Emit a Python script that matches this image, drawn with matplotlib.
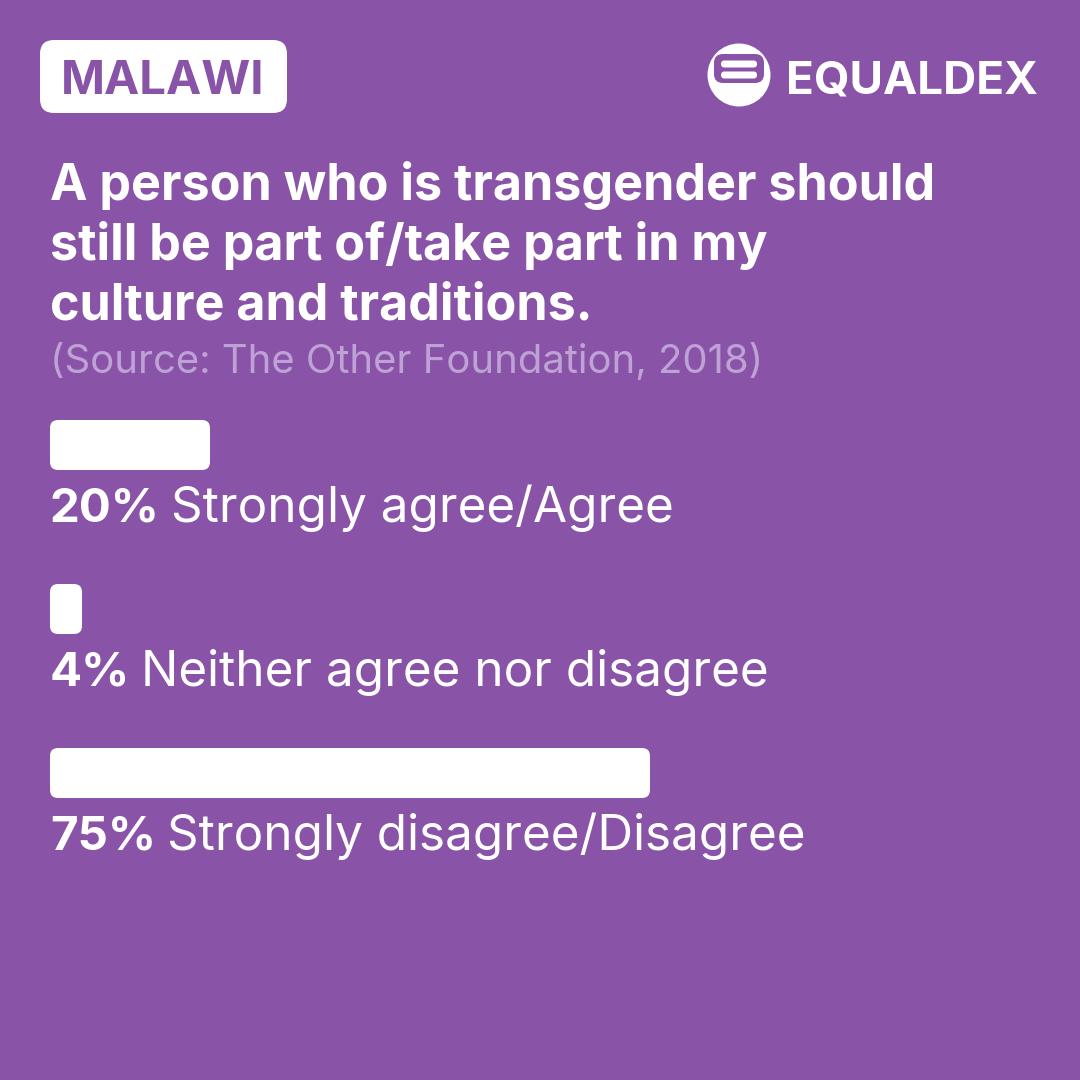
import matplotlib
matplotlib.use('Agg')
import matplotlib.pyplot as plt
from matplotlib.patches import FancyBboxPatch, Circle

# survey results, percent of respondents
country = 'MALAWI'
question = ['A person who is transgender should',
            'still be part of/take part in my',
            'culture and traditions.']
source = '(Source: The Other Foundation, 2018)'
shares = [20, 4, 75]
answers = ['Strongly agree/Agree',
           'Neither agree nor disagree',
           'Strongly disagree/Disagree']

BG = '#8954A8'
SRC = '#BFA2D5'
FONT = 'Inter'

fig = plt.figure(figsize=(10.8, 10.8), dpi=100)
fig.patch.set_facecolor(BG)

# full-canvas axes in pixel units for the header and labels
ax = fig.add_axes([0, 0, 1, 1])
ax.set_xlim(0, 1080)
ax.set_ylim(1080, 0)
ax.axis('off')

# country tag
ax.add_patch(FancyBboxPatch((40, 40), 247, 73, boxstyle='round,pad=0,rounding_size=14',
                            fc='white', ec='none'))
ax.text(163, 94, country, fontsize=34, fontweight='bold', family=FONT,
        color=BG, ha='center', va='baseline')

# logo mark
ax.add_patch(Circle((739, 75), 31.5, fc='white', ec='none'))
ax.add_patch(FancyBboxPatch((714, 54), 50, 29, boxstyle='round,pad=0,rounding_size=9',
                            fc=BG, ec='none'))
for yy in (64, 75):
    ax.add_patch(FancyBboxPatch((721, yy - 3.5), 36, 7, boxstyle='round,pad=0,rounding_size=3.5',
                                fc='white', ec='none'))
ax.text(786, 93, 'EQUALDEX', fontsize=33, fontweight='bold', family=FONT,
        color='white', ha='left', va='baseline')

# question
for i, line in enumerate(question):
    ax.text(50, 200 + i * 60, line, fontsize=36.2, fontweight='bold', family=FONT,
            color='white', ha='left', va='baseline')
ax.text(50, 373, source, fontsize=28.8, family=FONT, color=SRC,
        ha='left', va='baseline')

# bars: 100% spans 800 px, 1 unit = 8 px in both directions
bx = fig.add_axes([50 / 1080, 1 - 800 / 1080, 800 / 1080, 400 / 1080])
bx.set_xlim(0, 100)
bx.set_ylim(50, 0)
bx.axis('off')
bx.patch.set_alpha(0)

bar_h = 50 / 8
fig.canvas.draw()
for i, (val, ans) in enumerate(zip(shares, answers)):
    top = (420 + i * 164 - 400) / 8
    bx.add_patch(FancyBboxPatch((0, top), val, bar_h,
                                boxstyle='round,pad=0,rounding_size=1',
                                fc='white', ec='none', clip_on=False))
    base = 522 + i * 164
    t = ax.text(50, base, f'{val}%', fontsize=34.2, fontweight='bold',
                family=FONT, color='white', ha='left', va='baseline')
    bb = t.get_window_extent(renderer=fig.canvas.get_renderer())
    ax.text(bb.x1 + 11, base, ans, fontsize=35.6, family=FONT,
            color='white', ha='left', va='baseline')

fig.savefig('out.png', dpi=100, facecolor=BG)
